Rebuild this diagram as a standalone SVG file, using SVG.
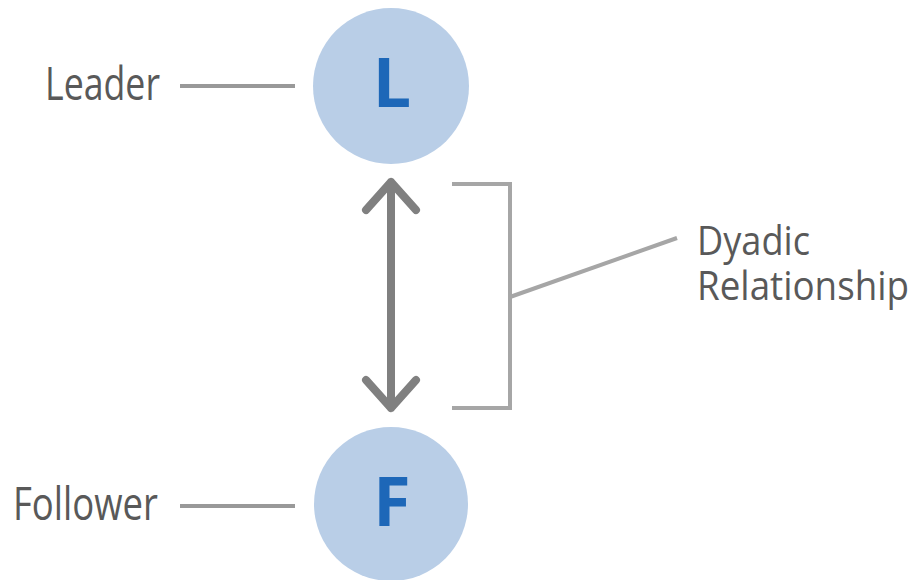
<svg xmlns="http://www.w3.org/2000/svg" width="916" height="580" viewBox="0 0 916 580">
<style>
.lbl{font-family:"Open Sans","Noto Sans",sans-serif;fill:#595959}
.ltr{font-family:"Open Sans","Noto Sans",sans-serif;font-weight:bold;fill:#1d67b8;font-size:68px;text-anchor:middle}
.node{fill:#b9cee7}
.lead{stroke:#999;stroke-width:4;fill:none}
.brk{stroke:#a6a6a6;stroke-width:4;fill:none}
.arr{stroke:#808080;stroke-width:8;fill:none;stroke-linecap:round;stroke-linejoin:round}
</style>
<rect width="916" height="580" fill="#fff"/>
<g id="leader">
<circle class="node" cx="391" cy="86" r="78"/>
<text class="ltr" x="392" y="107">L</text>
<text class="lbl" x="45" y="100" font-size="46" textLength="115" lengthAdjust="spacingAndGlyphs">Leader</text>
</g>
<g id="follower">
<circle class="node" cx="391" cy="504" r="77"/>
<text class="ltr" x="392" y="526">F</text>
<text class="lbl" x="13" y="520" font-size="46" textLength="145" lengthAdjust="spacingAndGlyphs">Follower</text>
</g>
<g id="dyadic">
<text class="lbl" x="697" y="255" font-size="40" textLength="113" lengthAdjust="spacingAndGlyphs">Dyadic</text>
<text class="lbl" x="697" y="300" font-size="40" textLength="212" lengthAdjust="spacingAndGlyphs">Relationship</text>
</g>
<g id="connectors">
<line class="lead" x1="180" y1="86" x2="295" y2="86"/>
<line class="lead" x1="180" y1="506" x2="295" y2="506"/>
<path class="arr" d="M391 182V408M366 210L391 182L416 210M366 380L391 408L416 380"/>
<path class="brk" d="M452 184H510V408H452"/>
<line class="brk" x1="510" y1="297" x2="677" y2="238"/>
</g>
</svg>
